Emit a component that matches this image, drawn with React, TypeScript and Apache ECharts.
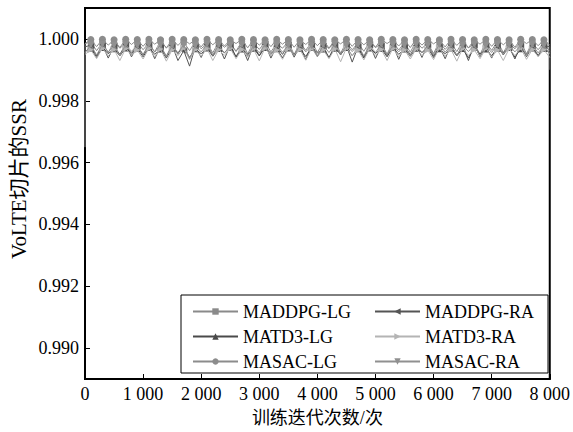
import React, { useEffect, useRef } from 'react';
import * as echarts from 'echarts';

const ITERATIONS = [
  0, 100, 200, 300, 400, 500, 600, 700, 800, 900,
  1000, 1100, 1200, 1300, 1400, 1500, 1600, 1700, 1800, 1900,
  2000, 2100, 2200, 2300, 2400, 2500, 2600, 2700, 2800, 2900,
  3000, 3100, 3200, 3300, 3400, 3500, 3600, 3700, 3800, 3900,
  4000, 4100, 4200, 4300, 4400, 4500, 4600, 4700, 4800, 4900,
  5000, 5100, 5200, 5300, 5400, 5500, 5600, 5700, 5800, 5900,
  6000, 6100, 6200, 6300, 6400, 6500, 6600, 6700, 6800, 6900,
  7000, 7100, 7200, 7300, 7400, 7500, 7600, 7700, 7800, 7900,
  8000,
];

// first recorded value of MADDPG-LG at iteration 0 (before the jump)
const MADDPG_LG_START = 0.99650;
// last recorded value of MADDPG-RA at iteration 8000 (final drop)
const MADDPG_RA_END = 0.99900;

const MADDPG_LG = [
  0.99985, 0.99990, 0.99962, 0.99988, 0.99955, 0.99992, 0.99970, 0.99986, 0.99948, 0.99990,
  0.99965, 0.99987, 0.99958, 0.99993, 0.99972, 0.99985, 0.99950, 0.99989, 0.99962, 0.99991,
  0.99968, 0.99986, 0.99955, 0.99990, 0.99973, 0.99988, 0.99960, 0.99992, 0.99952, 0.99987,
  0.99966, 0.99990, 0.99958, 0.99985, 0.99970, 0.99991, 0.99949, 0.99988, 0.99963, 0.99990,
  0.99957, 0.99986, 0.99969, 0.99992, 0.99954, 0.99989, 0.99965, 0.99987, 0.99960, 0.99991,
  0.99972, 0.99985, 0.99951, 0.99990, 0.99964, 0.99988, 0.99957, 0.99992, 0.99970, 0.99986,
  0.99953, 0.99990, 0.99966, 0.99987, 0.99959, 0.99991, 0.99971, 0.99985, 0.99950, 0.99989,
  0.99963, 0.99992, 0.99956, 0.99986, 0.99968, 0.99990, 0.99952, 0.99988, 0.99965, 0.99987,
  0.99960,
];

const MADDPG_RA = [
  0.99975, 0.99978, 0.99945, 0.99980, 0.99938, 0.99976, 0.99950, 0.99982, 0.99942, 0.99977,
  0.99948, 0.99980, 0.99936, 0.99975, 0.99944, 0.99979, 0.99930, 0.99962, 0.99912, 0.99976,
  0.99940, 0.99981, 0.99947, 0.99977, 0.99935, 0.99980, 0.99943, 0.99975, 0.99930, 0.99979,
  0.99946, 0.99982, 0.99938, 0.99976, 0.99950, 0.99980, 0.99941, 0.99977, 0.99933, 0.99981,
  0.99945, 0.99976, 0.99939, 0.99980, 0.99948, 0.99978, 0.99925, 0.99975, 0.99942, 0.99981,
  0.99937, 0.99977, 0.99946, 0.99980, 0.99934, 0.99976, 0.99949, 0.99979, 0.99940, 0.99982,
  0.99944, 0.99975, 0.99936, 0.99980, 0.99947, 0.99977, 0.99930, 0.99981, 0.99943, 0.99976,
  0.99938, 0.99979, 0.99948, 0.99975, 0.99935, 0.99980, 0.99942, 0.99977, 0.99946, 0.99978,
  0.99975,
];

const MATD3_LG = [
  0.99960, 0.99970, 0.99940, 0.99972, 0.99952, 0.99968, 0.99945, 0.99971, 0.99955, 0.99969,
  0.99942, 0.99973, 0.99950, 0.99967, 0.99938, 0.99970, 0.99955, 0.99972, 0.99940, 0.99968,
  0.99952, 0.99971, 0.99944, 0.99969, 0.99956, 0.99973, 0.99941, 0.99967, 0.99950, 0.99970,
  0.99945, 0.99972, 0.99953, 0.99968, 0.99939, 0.99971, 0.99950, 0.99969, 0.99943, 0.99973,
  0.99955, 0.99967, 0.99940, 0.99970, 0.99951, 0.99972, 0.99946, 0.99968, 0.99938, 0.99971,
  0.99953, 0.99969, 0.99942, 0.99973, 0.99950, 0.99967, 0.99944, 0.99970, 0.99956, 0.99972,
  0.99940, 0.99968, 0.99952, 0.99971, 0.99945, 0.99969, 0.99939, 0.99973, 0.99951, 0.99967,
  0.99946, 0.99970, 0.99955, 0.99972, 0.99941, 0.99968, 0.99950, 0.99971, 0.99944, 0.99969,
  0.99955,
];

const MATD3_RA = [
  0.99950, 0.99965, 0.99936, 0.99970, 0.99945, 0.99966, 0.99930, 0.99969, 0.99948, 0.99964,
  0.99935, 0.99970, 0.99942, 0.99967, 0.99928, 0.99965, 0.99946, 0.99971, 0.99933, 0.99966,
  0.99944, 0.99969, 0.99930, 0.99965, 0.99947, 0.99970, 0.99936, 0.99966, 0.99941, 0.99968,
  0.99929, 0.99971, 0.99945, 0.99964, 0.99934, 0.99969, 0.99948, 0.99966, 0.99931, 0.99970,
  0.99943, 0.99965, 0.99936, 0.99968, 0.99926, 0.99971, 0.99945, 0.99964, 0.99932, 0.99969,
  0.99947, 0.99966, 0.99930, 0.99970, 0.99942, 0.99965, 0.99935, 0.99968, 0.99946, 0.99964,
  0.99933, 0.99971, 0.99944, 0.99966, 0.99928, 0.99969, 0.99947, 0.99965, 0.99936, 0.99970,
  0.99941, 0.99964, 0.99930, 0.99968, 0.99946, 0.99971, 0.99934, 0.99966, 0.99943, 0.99965,
  0.99940,
];

const MASAC_LG = [
  0.99985, 0.99998, 0.99975, 0.99999, 0.99980, 0.99997, 0.99972, 0.99999, 0.99982, 0.99998,
  0.99976, 0.99999, 0.99983, 0.99997, 0.99970, 0.99999, 0.99979, 0.99998, 0.99984, 0.99997,
  0.99974, 0.99999, 0.99981, 0.99998, 0.99977, 0.99997, 0.99985, 0.99999, 0.99971, 0.99998,
  0.99980, 0.99997, 0.99975, 0.99999, 0.99983, 0.99998, 0.99973, 0.99997, 0.99982, 0.99999,
  0.99978, 0.99998, 0.99970, 0.99997, 0.99984, 0.99999, 0.99976, 0.99998, 0.99981, 0.99997,
  0.99973, 0.99999, 0.99985, 0.99998, 0.99977, 0.99997, 0.99972, 0.99999, 0.99980, 0.99998,
  0.99984, 0.99997, 0.99974, 0.99999, 0.99979, 0.99998, 0.99971, 0.99997, 0.99983, 0.99999,
  0.99976, 0.99998, 0.99981, 0.99997, 0.99973, 0.99999, 0.99985, 0.99998, 0.99978, 0.99997,
  0.99980,
];

const MASAC_RA = [
  0.99955, 0.99980, 0.99948, 0.99982, 0.99958, 0.99979, 0.99945, 0.99981, 0.99960, 0.99978,
  0.99950, 0.99982, 0.99957, 0.99980, 0.99943, 0.99979, 0.99955, 0.99981, 0.99936, 0.99978,
  0.99958, 0.99982, 0.99947, 0.99980, 0.99954, 0.99979, 0.99960, 0.99981, 0.99944, 0.99978,
  0.99955, 0.99982, 0.99949, 0.99980, 0.99957, 0.99979, 0.99946, 0.99981, 0.99958, 0.99978,
  0.99942, 0.99980, 0.99956, 0.99982, 0.99950, 0.99979, 0.99959, 0.99981, 0.99945, 0.99978,
  0.99956, 0.99982, 0.99948, 0.99980, 0.99958, 0.99979, 0.99944, 0.99981, 0.99955, 0.99978,
  0.99949, 0.99982, 0.99957, 0.99980, 0.99946, 0.99979, 0.99959, 0.99981, 0.99943, 0.99978,
  0.99956, 0.99982, 0.99950, 0.99980, 0.99958, 0.99979, 0.99947, 0.99981, 0.99955, 0.99978,
  0.99952,
];

const SERIES_NAMES = ['MADDPG-LG', 'MADDPG-RA', 'MATD3-LG', 'MATD3-RA', 'MASAC-LG', 'MASAC-RA'];
const X_TICK_LABELS = ['0', '1 000', '2 000', '3 000', '4 000', '5 000', '6 000', '7 000', '8 000'];
const Y_AXIS_TITLE = 'VoLTE切片的SSR';
const X_AXIS_TITLE = '训练迭代次数/次';

const FONT = '"Liberation Serif", "Times New Roman", "Noto Sans CJK SC", serif';

export default function App() {
  const ref = useRef<HTMLDivElement>(null);
  useEffect(() => {
    if (!ref.current) return;
    const chart = echarts.init(ref.current, undefined, { renderer: 'svg' });
    const values = [MADDPG_LG, MADDPG_RA, MATD3_LG, MATD3_RA, MASAC_LG, MASAC_RA];
    const styles = [
      { color: '#8a8a8a', symbol: 'rect', rotate: 0, size: 6 },
      { color: '#555555', symbol: 'triangle', rotate: 90, size: 7 },
      { color: '#4a4a4a', symbol: 'triangle', rotate: 0, size: 7 },
      { color: '#b4b4b4', symbol: 'triangle', rotate: -90, size: 7 },
      { color: '#8c8c8c', symbol: 'circle', rotate: 0, size: 7 },
      { color: '#909090', symbol: 'triangle', rotate: 180, size: 7 },
    ];
    const series = SERIES_NAMES.map((name, s) => {
      const data: any[] = ITERATIONS.map((x, i) =>
        i % 2 === 1 ? { value: [x, values[s][i]] } : { value: [x, values[s][i]], symbol: 'none' }
      );
      if (s === 0) data.unshift({ value: [ITERATIONS[0], MADDPG_LG_START], symbol: 'none' });
      if (s === 1) data.push({ value: [ITERATIONS[ITERATIONS.length - 1], MADDPG_RA_END], symbol: 'none' });
      return {
        name,
        type: 'line',
        symbol: styles[s].symbol,
        symbolRotate: styles[s].rotate,
        symbolSize: styles[s].size,
        showAllSymbol: true,
        lineStyle: { color: styles[s].color, width: 1 },
        itemStyle: { color: styles[s].color },
        z: 2 + s,
        data,
      };
    });
    const legendText = { fontFamily: FONT, fontSize: 18, color: '#000', lineHeight: 21 };
    chart.setOption({
      animation: false,
      backgroundColor: '#fff',
      textStyle: { fontFamily: FONT },
      grid: {
        left: 85, right: 20, top: 8, bottom: 49,
        show: true, borderColor: '#000', borderWidth: 2, backgroundColor: 'transparent',
      },
      legend: [
        {
          data: ['MADDPG-LG', 'MATD3-LG', 'MASAC-LG'],
          orient: 'vertical', left: 192, top: 301, padding: 0,
          itemWidth: 45, itemHeight: 8, itemGap: 4,
          textStyle: legendText,
          z: 10,
        },
        {
          data: ['MADDPG-RA', 'MATD3-RA', 'MASAC-RA'],
          orient: 'vertical', left: 374, top: 301, padding: 0,
          itemWidth: 45, itemHeight: 8, itemGap: 4,
          textStyle: legendText,
          z: 10,
        },
      ],
      xAxis: {
        type: 'value', min: 0, max: 8000, interval: 1000,
        name: X_AXIS_TITLE, nameLocation: 'middle', nameGap: 30,
        nameTextStyle: { fontFamily: FONT, fontSize: 18, color: '#000' },
        axisLine: { show: true, lineStyle: { color: '#000', width: 2 } },
        axisTick: { show: true, inside: true, length: 5, lineStyle: { color: '#000', width: 1 } },
        axisLabel: {
          fontFamily: FONT, fontSize: 18, color: '#000', margin: 6,
          formatter: (v: number) => X_TICK_LABELS[Math.round(v / 1000)] ?? '',
        },
        splitLine: { show: false },
      },
      yAxis: {
        type: 'value', min: 0.989, max: 1.001, splitNumber: 6,
        axisLine: { show: true, lineStyle: { color: '#000', width: 2 } },
        axisTick: { show: true, inside: true, length: 5, lineStyle: { color: '#000', width: 1 } },
        axisLabel: {
          fontFamily: FONT, fontSize: 18, color: '#000', margin: 6,
          showMinLabel: false, showMaxLabel: false,
          formatter: (v: number) => v.toFixed(3),
        },
        splitLine: { show: false },
      },
      graphic: [
        {
          type: 'rect', z: 5,
          shape: { x: 181, y: 295, width: 367, height: 78 },
          style: { fill: '#fff', stroke: '#000', lineWidth: 1 },
        },
        {
          type: 'text', x: 19, y: 179, rotation: Math.PI / 2,
          style: {
            text: Y_AXIS_TITLE, font: `21px ${FONT}`, fill: '#000',
            textAlign: 'center', textVerticalAlign: 'middle',
          },
        },
      ],
      series,
    });
    return () => chart.dispose();
  }, []);
  return <div ref={ref} style={{ width: 573, height: 432, position: 'absolute', left: 0, top: 0 }} />;
}
